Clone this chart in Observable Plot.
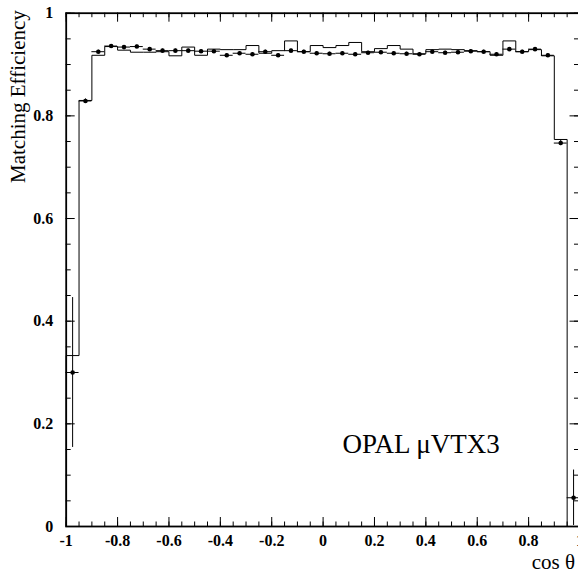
<!DOCTYPE html>
<html><head><meta charset="utf-8">
<script src="https://cdn.jsdelivr.net/npm/d3@7"></script>
<script src="https://cdn.jsdelivr.net/npm/@observablehq/plot@0.6"></script>
<style>html,body{margin:0;padding:0;background:#fff;overflow:hidden}</style>
</head><body><div id="chart"></div>
<script>
const binCenters = [-0.975,-0.925,-0.875,-0.825,-0.775,-0.725,-0.675,-0.625,-0.575,-0.525,
  -0.475,-0.425,-0.375,-0.325,-0.275,-0.225,-0.175,-0.125,-0.075,-0.025,
  0.025,0.075,0.125,0.175,0.225,0.275,0.325,0.375,0.425,0.475,
  0.525,0.575,0.625,0.675,0.725,0.775,0.825,0.875,0.925,0.975];
const binHalfWidth = 0.025;
const mcEff = [0.333,0.830,0.918,0.935,0.928,0.924,0.924,0.925,0.917,0.934,
  0.918,0.930,0.929,0.929,0.937,0.922,0.927,0.946,0.925,0.937,
  0.933,0.937,0.943,0.925,0.931,0.937,0.930,0.921,0.929,0.930,
  0.929,0.927,0.925,0.918,0.946,0.925,0.929,0.917,0.754,0.0];
const dataEff = [0.300,0.829,0.925,0.936,0.934,0.935,0.930,0.927,0.927,0.927,
  0.926,0.926,0.918,0.922,0.920,0.925,0.918,0.927,0.925,0.922,
  0.921,0.922,0.920,0.923,0.924,0.922,0.921,0.920,0.925,0.923,
  0.924,0.926,0.925,0.920,0.930,0.925,0.930,0.918,0.747,0.056];
const dataErr = [0.146,0.004,0.003,0.003,0.003,0.003,0.003,0.003,0.003,0.003,
  0.003,0.003,0.003,0.003,0.003,0.003,0.003,0.003,0.003,0.003,
  0.003,0.003,0.003,0.003,0.003,0.003,0.003,0.003,0.003,0.003,
  0.003,0.003,0.003,0.003,0.003,0.003,0.003,0.003,0.005,0.054];
const xTickValues = [-1,-0.8,-0.6,-0.4,-0.2,0,0.2,0.4,0.6,0.8,1];
const xTickLabels = ["-1","-0.8","-0.6","-0.4","-0.2","0","0.2","0.4","0.6","0.8","1"];
const xMinorTicks = d3.range(-1, 1.0001, 0.05);
const yTickValues = [0,0.2,0.4,0.6,0.8,1];
const yTickLabels = ["0","0.2","0.4","0.6","0.8","1"];
const yMinorTicks = d3.range(0, 1.0001, 0.05);

const W = 578, H = 573;
const mL = 65.7, mR = -1.5, mT = 12.7, mB = 47;
const FW = W - mL - mR, FH = H - mT - mB;

const bins = binCenters.map((c, i) => ({c, mc: mcEff[i], v: dataEff[i], e: dataErr[i]}));
const steps = [{x: -1, y: 0}, ...bins.map(b => ({x: b.c - binHalfWidth, y: b.mc})), {x: 1, y: mcEff[mcEff.length - 1]}];

const font = "'Liberation Serif','Times New Roman',serif";
const chart = Plot.plot({
  width: W, height: H,
  marginLeft: mL, marginRight: mR, marginTop: mT, marginBottom: mB,
  x: {domain: [-1, 1], range: [mL, W - mR], axis: null},
  y: {domain: [0, 1], range: [H - mB, mT], axis: null},
  style: {fontFamily: font, background: "#fff", color: "#000"},
  marks: [
    // histogram (MC)
    Plot.line(steps, {x: "x", y: "y", curve: "step-after", stroke: "#000", strokeWidth: 1}),
    // data error bars
    Plot.ruleX(bins, {x: "c", y1: d => Math.max(0, d.v - d.e), y2: d => d.v + d.e, stroke: "#000", strokeWidth: 1}),
    Plot.ruleY(bins, {y: "v", x1: d => d.c - binHalfWidth, x2: d => d.c + binHalfWidth, stroke: "#000", strokeWidth: 1}),
    Plot.dot(bins, {x: "c", y: "v", r: 2.3, fill: "#000", stroke: "none"}),
    // ticks
    Plot.tickX(xTickValues, {x: d => d, insetTop: FH - 9, stroke: "#000", strokeWidth: 1}),
    Plot.tickX(xMinorTicks, {x: d => d, insetTop: FH - 4.5, stroke: "#000", strokeWidth: 1}),
    Plot.tickX(xTickValues, {x: d => d, insetBottom: FH - 9, stroke: "#000", strokeWidth: 1}),
    Plot.tickX(xMinorTicks, {x: d => d, insetBottom: FH - 4.5, stroke: "#000", strokeWidth: 1}),
    Plot.tickY(yTickValues, {y: d => d, insetRight: FW - 9, stroke: "#000", strokeWidth: 1}),
    Plot.tickY(yMinorTicks, {y: d => d, insetRight: FW - 5, stroke: "#000", strokeWidth: 1}),
    Plot.tickY(yTickValues, {y: d => d, insetLeft: FW - 10, stroke: "#000", strokeWidth: 1}),
    Plot.tickY(yMinorTicks, {y: d => d, insetLeft: FW - 5.5, stroke: "#000", strokeWidth: 1}),
    Plot.frame({stroke: "#000", strokeWidth: 1.8}),
    // tick labels
    Plot.text(yTickValues, {y: d => d, text: (d, i) => yTickLabels[i], frameAnchor: "left", dx: -13, textAnchor: "end", lineAnchor: "middle", fontWeight: "bold", fontSize: 16, fill: "#000"}),
    Plot.text(xTickValues, {x: d => d, text: (d, i) => xTickLabels[i], frameAnchor: "bottom", dy: 14, lineAnchor: "middle", fontWeight: "bold", fontSize: 16, fill: "#000"}),
    // titles
    Plot.text(["Matching Efficiency"], {frameAnchor: "top-left", dx: -47.7, dy: -3, rotate: -90, textAnchor: "end", lineAnchor: "middle", fontSize: 21, fill: "#000"}),
    Plot.text(["cos \u03B8"], {frameAnchor: "bottom-right", dx: -5, dy: 42, textAnchor: "end", lineAnchor: "bottom", fontSize: 21, fill: "#000"}),
    Plot.text(["OPAL \u03BCVTX3"], {frameAnchor: "top-left", dx: 276.3, dy: 440, textAnchor: "start", lineAnchor: "bottom", fontSize: 27, fill: "#000"})
  ]
});
document.getElementById("chart").appendChild(chart);
</script>
</body></html>
